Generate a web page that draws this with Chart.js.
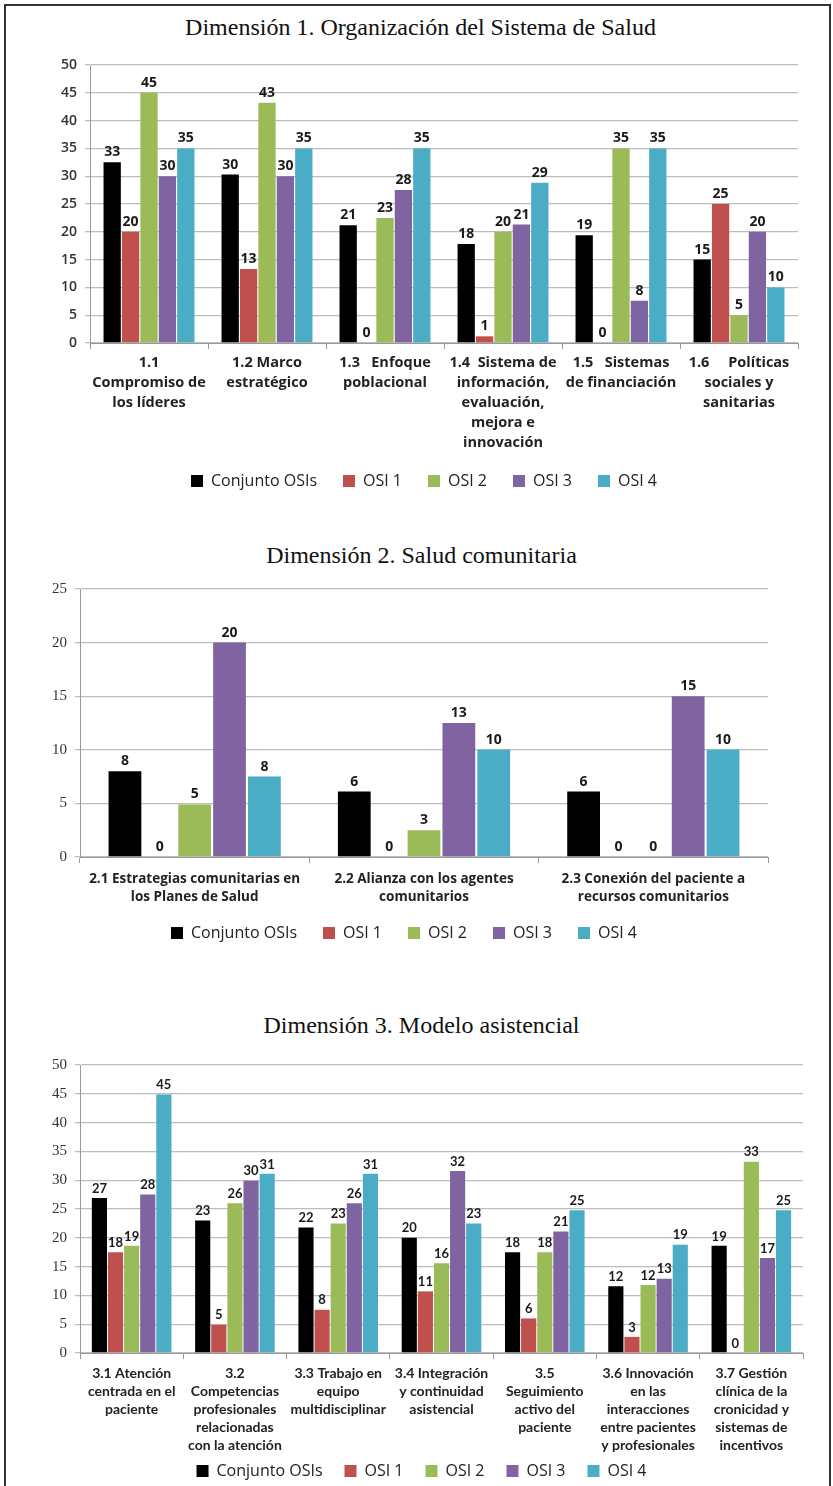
<!DOCTYPE html>
<html lang="es">
<head>
<meta charset="utf-8">
<title>Dimensiones OSIs</title>
<script src="https://cdn.jsdelivr.net/npm/chart.js@4.4.1/dist/chart.umd.min.js"></script>
<style>
    html, body { margin: 0; padding: 0; background: #fff; overflow: hidden; }
    #page { position: relative; width: 833px; height: 1486px; overflow: hidden; }
    #frame { position: absolute; left: 4px; top: 4px; width: 823px; height: 1600px; border: 2px solid #333; }
    .box { position: absolute; left: 0; width: 833px; }
    .title { position: absolute; left: 0; width: 833px; text-align: center; font: 24px/28px "Liberation Serif", serif; color: #111; }
</style>
</head>
<body>
<div id="page">
    <div id="frame"></div>
    <div class="title" style="top:13px;left:4px">Dimensión 1. Organización del Sistema de Salud</div>
    <div class="title" style="top:541px;left:5px">Dimensión 2. Salud comunitaria</div>
    <div class="title" style="top:1011px;left:5px">Dimensión 3. Modelo asistencial</div>
    <div class="box" style="top:0px;height:503px"><canvas id="chart1"></canvas></div>
    <div class="box" style="top:527px;height:428px"><canvas id="chart2"></canvas></div>
    <div class="box" style="top:997px;height:496px"><canvas id="chart3"></canvas></div>
</div>
<script>
// ===== series =====
const seriesNames = ['Conjunto OSIs', 'OSI 1', 'OSI 2', 'OSI 3', 'OSI 4'];
const seriesColors = ['#000000', '#c0504d', '#9bbb59', '#8064a2', '#4bacc6'];

// ===== Dimensión 1 =====
const categories1 = [
    ['1.1', 'Compromiso de', 'los líderes'],
    ['1.2 Marco', 'estratégico'],
    ['1.3   Enfoque', 'poblacional'],
    ['1.4  Sistema de', 'información,', 'evaluación,', 'mejora e', 'innovación'],
    ['1.5   Sistemas', 'de financiación'],
    ['1.6     Políticas', 'sociales y', 'sanitarias']
];
const conjunto1 = [32.5, 30.3, 21.2, 17.8, 19.4, 15];
const osi1_1 = [20, 13.3, 0, 1.2, 0, 25];
const osi2_1 = [45, 43.2, 22.5, 20, 35, 5];
const osi3_1 = [30, 30, 27.5, 21.3, 7.6, 20];
const osi4_1 = [35, 35, 35, 28.8, 35, 10];

// ===== Dimensión 2 =====
const categories2 = [
    ['2.1 Estrategias comunitarias en', 'los Planes de Salud'],
    ['2.2 Alianza con los agentes', 'comunitarios'],
    ['2.3 Conexión del paciente a', 'recursos comunitarios']
];
const conjunto2 = [8, 6.1, 6.1];
const osi1_2 = [0, 0, 0];
const osi2_2 = [4.9, 2.5, 0];
const osi3_2 = [20, 12.5, 15];
const osi4_2 = [7.5, 10, 10];

// ===== Dimensión 3 =====
const categories3 = [
    ['3.1 Atención', 'centrada en el', 'paciente'],
    ['3.2', 'Competencias', 'profesionales', 'relacionadas', 'con la atención'],
    ['3.3 Trabajo en', 'equipo', 'multidisciplinar'],
    ['3.4 Integración', 'y continuidad', 'asistencial'],
    ['3.5', 'Seguimiento', 'activo del', 'paciente'],
    ['3.6 Innovación', 'en las', 'interacciones', 'entre pacientes', 'y profesionales'],
    ['3.7 Gestión', 'clínica de la', 'cronicidad y', 'sistemas de', 'incentivos']
];
const conjunto3 = [26.9, 23, 21.8, 20, 17.5, 11.6, 18.6];
const osi1_3 = [17.5, 4.9, 7.5, 10.7, 6, 2.8, 0];
const osi2_3 = [18.6, 26, 22.5, 15.6, 17.5, 11.8, 33.2];
const osi3_3 = [27.5, 29.9, 26, 31.6, 21.1, 12.9, 16.5];
const osi4_3 = [44.9, 31.1, 31.1, 22.5, 24.8, 18.8, 24.8];

// numbers above every bar
const valueLabels = {
    id: 'valueLabels',
    afterDatasetsDraw(chart, args, opts) {
        const ctx = chart.ctx;
        ctx.save();
        ctx.font = opts.font;
        ctx.fillStyle = '#1a1a1a';
        ctx.textAlign = 'center';
        ctx.textBaseline = 'bottom';
        chart.data.datasets.forEach((ds, i) => {
            chart.getDatasetMeta(i).data.forEach((bar, j) => {
                ctx.fillText(String(Math.round(ds.data[j])), bar.x, bar.y - 3);
            });
        });
        ctx.restore();
    }
};

function makeChart(canvasId, labels, values, cfg) {
    const ctx = document.getElementById(canvasId).getContext('2d');
    return new Chart(ctx, {
        type: 'bar',
        data: {
            labels: labels,
            datasets: values.map((data, i) => ({
                label: seriesNames[i],
                data: data,
                backgroundColor: seriesColors[i],
                borderWidth: 0,
                barPercentage: 0.94,
                categoryPercentage: cfg.catPct
            }))
        },
        plugins: [valueLabels],
        options: {
            responsive: true,
            maintainAspectRatio: false,
            animation: false,
            layout: { padding: cfg.padding },
            plugins: {
                title: { display: false },
                legend: {
                    position: 'bottom',
                    labels: {
                        color: '#222',
                        boxWidth: 12,
                        boxHeight: 12,
                        padding: cfg.legendPad,
                        font: { family: 'Open Sans', size: cfg.legendSize }
                    }
                },
                tooltip: { enabled: false },
                valueLabels: { font: cfg.valueFont }
            },
            scales: {
                x: {
                    grid: { display: true, drawOnChartArea: false, offset: true, tickLength: 6, color: '#999' },
                    border: { color: '#999' },
                    ticks: {
                        color: '#222',
                        maxRotation: 0,
                        autoSkip: false,
                        padding: cfg.xPad,
                        font: cfg.xFont
                    },
                    afterFit: (s) => {
                        s.height = cfg.xHeight;
                        s._computeLabelArea = () => null; // labels may run past the fixed height
                    }
                },
                y: {
                    min: 0,
                    max: cfg.yMax,
                    ticks: {
                        stepSize: 5,
                        color: '#333',
                        padding: 8,
                        font: cfg.yFont
                    },
                    grid: { color: '#bdbdbd', lineWidth: 1.3, tickLength: 5 },
                    border: { color: '#999' },
                    afterFit: (s) => { s.width = 40; }
                }
            }
        }
    });
}

makeChart('chart1', categories1, [conjunto1, osi1_1, osi2_1, osi3_1, osi4_1], {
    catPct: 0.78,
    padding: { top: 65, left: 50, right: 35, bottom: 4 },
    legendPad: 26,
    legendSize: 16,
    valueFont: 'bold 14px "Open Sans"',
    xFont: { family: 'Open Sans', size: 14.5, weight: 'bold', lineHeight: 1.38 },
    yFont: { family: 'Open Sans', size: 14, weight: '600' },
    xPad: 4,
    xHeight: 104,
    yMax: 50
});

makeChart('chart2', categories2, [conjunto2, osi1_2, osi2_2, osi3_2, osi4_2], {
    catPct: 0.76,
    padding: { top: 62, left: 40, right: 65, bottom: 4 },
    legendPad: 26,
    legendSize: 16,
    valueFont: 'bold 14px "Open Sans"',
    xFont: { family: 'Open Sans', size: 13.5, weight: 'bold', lineHeight: 1.35 },
    yFont: { family: 'Liberation Serif', size: 15 },
    xPad: 7,
    xHeight: 42,
    yMax: 25
});

makeChart('chart3', categories3, [conjunto3, osi1_3, osi2_3, osi3_3, osi4_3], {
    catPct: 0.78,
    padding: { top: 68, left: 40, right: 30, bottom: 4 },
    legendPad: 22,
    legendSize: 16,
    valueFont: 'bold 13px "Lato"',
    xFont: { family: 'Lato', size: 14, weight: 'bold', lineHeight: 1.3 },
    yFont: { family: 'Liberation Serif', size: 15 },
    xPad: 5,
    xHeight: 88,
    yMax: 50
});
</script>
</body>
</html>
